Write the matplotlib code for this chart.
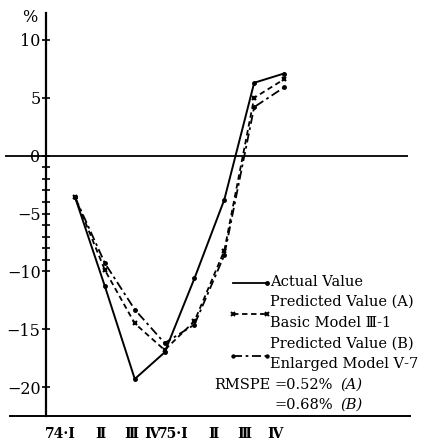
import matplotlib
matplotlib.use("Agg")
import matplotlib.pyplot as plt
from matplotlib.lines import Line2D
from matplotlib.transforms import ScaledTranslation

plt.rcParams['font.family'] = ['DejaVu Serif', 'Liberation Serif']

quarters = ["74·Ⅰ", "Ⅱ", "Ⅲ", "Ⅳ", "75·Ⅰ", "Ⅱ", "Ⅲ", "Ⅳ"]
actual = [-3.6, -11.3, -19.3, -17.0, -10.6, -3.8, 6.3, 7.1]
pred_a = [-3.6, -9.9, -14.5, -16.8, -14.3, -8.2, 5.0, 6.6]
pred_b = [-3.6, -9.3, -13.3, -16.2, -14.6, -8.6, 4.2, 5.9]
y_ticks = [10, 5, 0, -5, -10, -15, -20]
y_minor = [-1, -2, -3, -4, -6, -7, -8, -9]

W, H = 435, 441
fig = plt.figure(figsize=(W / 100, H / 100), dpi=100)

def fx(x):
    return x / W

def fy(y):
    return 1 - y / H

ax = fig.add_axes([fx(10), fy(416), fx(410) - fx(10), fy(13) - fy(416)])
ax.set_xlim(-2.18, 11.22)
ax.set_ylim(-22.5, 12.33)

xs = list(range(len(quarters)))
ax.plot(xs, actual, color='black', lw=1.4, ls='-', marker='o', ms=2.5)
ax.plot(xs, pred_a, color='black', lw=1.3, ls=(0, (3, 2)), marker='x', ms=3.5, mew=1.5)
ax.plot(xs, pred_b, color='black', lw=1.3, ls=(0, (5, 2, 1.5, 2)), marker='o', ms=2.5)

# zero line
ax.hlines(0, -2.35, 11.15, color='black', lw=1.3, clip_on=False)

for s in ['top', 'right']:
    ax.spines[s].set_visible(False)
ax.spines['left'].set_position(('data', -0.97))
ax.spines['left'].set_linewidth(1.6)
ax.spines['bottom'].set_linewidth(1.4)

ax.set_yticks(y_ticks)
ax.set_yticklabels([str(v).replace('-', '−') for v in y_ticks], fontsize=11.5)
ax.set_yticks(y_minor, minor=True)
ax.tick_params(axis='y', which='major', direction='inout', length=6, width=1.2, pad=1)
ax.tick_params(axis='y', which='minor', direction='inout', length=6, width=1.2)

ax.set_xticks(xs)
ax.set_xticklabels(quarters, fontsize=10, fontweight='bold')
ax.tick_params(axis='x', length=0, pad=8)
label_dx = [-15, -4, -3, -13, -21, -11, -10, -9]
for lab, dx in zip(ax.get_xticklabels(), label_dx):
    lab.set_transform(lab.get_transform() + ScaledTranslation(dx / 100, 0, fig.dpi_scale_trans))

fig.text(fx(30), fy(17), '%', fontsize=11.5, ha='center', va='center')

# legend
leg_fs = 10.5
def legline(y, ls, marker, both):
    xd = [fx(233), fx(267)]
    yd = [fy(y), fy(y)]
    fig.add_artist(Line2D(xd, yd, color='black', lw=1.3, ls=ls))
    if both:
        fig.add_artist(Line2D(xd, yd, color='black', lw=0, marker=marker, ms=3.5, mew=1.4))
    else:
        fig.add_artist(Line2D([xd[1]], [yd[1]], color='black', lw=0, marker=marker, ms=2.5))

legline(283, '-', 'o', False)
legline(314, (0, (3, 2)), 'x', True)
legline(356, (0, (5, 2, 1.5, 2)), '.', True)

tx = fx(270)
fig.text(tx, fy(282), 'Actual Value', fontsize=leg_fs, va='center')
fig.text(tx, fy(302), 'Predicted Value (A)', fontsize=leg_fs, va='center')
fig.text(tx, fy(323), 'Basic Model Ⅲ-1', fontsize=leg_fs, va='center')
fig.text(tx, fy(344), 'Predicted Value (B)', fontsize=leg_fs, va='center')
fig.text(tx, fy(364), 'Enlarged Model Ⅴ-7', fontsize=leg_fs, va='center')
fig.text(fx(214), fy(385), 'RMSPE', fontsize=leg_fs, va='center')
fig.text(fx(275), fy(385), '=0.52%', fontsize=leg_fs, va='center')
fig.text(fx(340), fy(385), '(A)', fontsize=leg_fs, va='center', style='italic')
fig.text(fx(275), fy(405), '=0.68%', fontsize=leg_fs, va='center')
fig.text(fx(340), fy(405), '(B)', fontsize=leg_fs, va='center', style='italic')

fig.savefig('out.png', dpi=100)
